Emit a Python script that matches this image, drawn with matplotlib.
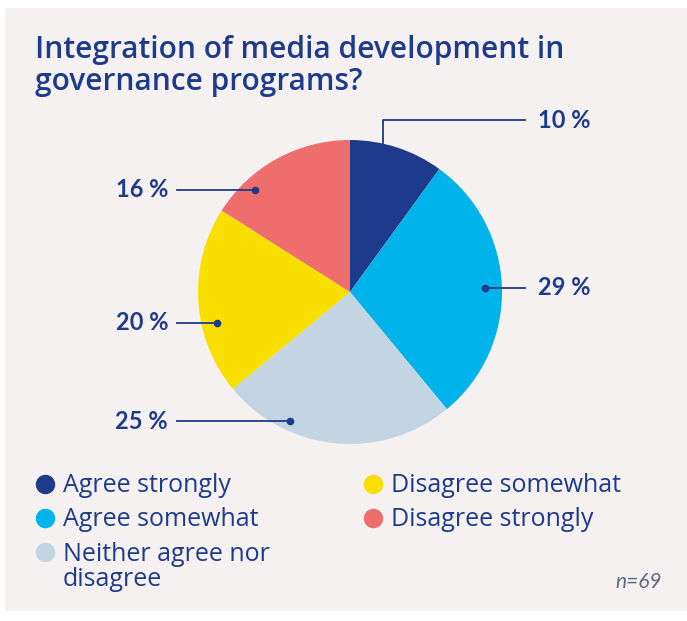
import matplotlib
matplotlib.use("Agg")
import matplotlib.pyplot as plt
from matplotlib.patches import Rectangle
import numpy as np

# survey answers, clockwise from 12 o'clock
categories = ["Agree strongly", "Agree somewhat", "Neither agree nor\ndisagree",
              "Disagree somewhat", "Disagree strongly"]
shares = [10, 29, 25, 20, 16]
colors = ["#1e3a8a", "#00b3ea", "#c3d5e2", "#f9df00", "#ee6e6e"]
sample_note = "n=69"
title = "Integration of media development in\ngovernance programs?"

NAVY = "#1e3a8a"
BG = "#f5f1f0"
TEXT_FONT = ["Open Sans", "DejaVu Sans"]

plt.rcParams["font.family"] = ["Lato", "DejaVu Sans"]

W, H = 687, 621
fig = plt.figure(figsize=(W / 100, H / 100), dpi=100)
ax = fig.add_axes([0, 0, 1, 1])

# panel behind everything
ax.add_patch(Rectangle((5, H - 611), 682, 603, facecolor=BG, edgecolor="none", zorder=0))

ax.text(35, H - 35, title, fontsize=21.5, fontweight="semibold", color=NAVY,
        family=TEXT_FONT, ha="left", va="top", linespacing=1.1)

cx, cy, r = 350, H - 292, 152
ax.pie(shares, colors=colors, startangle=90, counterclock=False,
       center=(cx, cy), radius=r, frame=True, wedgeprops=dict(linewidth=0))
ax.set_xlim(0, W)
ax.set_ylim(0, H)
ax.set_aspect("equal")
ax.axis("off")

# leader anchors: angle on the pie (deg) and fraction of radius
anchors = [(77, 0.97), (1.7, 0.89), (245, 0.94), (193, 0.90), (133, 0.92)]
top_label_y = H - 120
for i, ((ang, frac), share) in enumerate(zip(anchors, shares)):
    a = np.deg2rad(ang)
    px, py = cx + frac * r * np.cos(a), cy + frac * r * np.sin(a)
    lbl = f"{share} %"
    if i == 0:
        ax.plot([px, px, 525], [py, top_label_y, top_label_y], color=NAVY, lw=1.3)
        ax.text(538, top_label_y, lbl, fontsize=17, fontweight="bold", color=NAVY,
                ha="left", va="center")
    elif px > cx:
        ax.plot([px, 525], [py, py], color=NAVY, lw=1.3)
        ax.plot(px, py, "o", color=NAVY, ms=4.5)
        ax.text(538, py, lbl, fontsize=17, fontweight="bold", color=NAVY,
                ha="left", va="center")
    else:
        ax.plot([177, px], [py, py], color=NAVY, lw=1.3)
        ax.plot(px, py, "o", color=NAVY, ms=4.5)
        ax.text(168, py, lbl, fontsize=17, fontweight="bold", color=NAVY,
                ha="right", va="center")

# legend in two columns
leg_pos = [(45, H - 484), (45, H - 518), (45, H - 552), (373, H - 484), (373, H - 518)]
for (lx, ly), name, c in zip(leg_pos, categories, colors):
    ax.plot(lx, ly, "o", color=c, ms=13)
    if "\n" in name:
        ax.text(lx + 18, ly + 10, name, fontsize=18, color=NAVY, family=TEXT_FONT,
                ha="left", va="top", linespacing=1.02)
    else:
        ax.text(lx + 18, ly - 8, name, fontsize=18, color=NAVY, family=TEXT_FONT,
                ha="left", va="baseline")

ax.text(662, H - 582, sample_note, fontsize=15, style="italic", color="#5c6b82",
        ha="right", va="center")

fig.savefig("out.png", dpi=100, facecolor="white")
